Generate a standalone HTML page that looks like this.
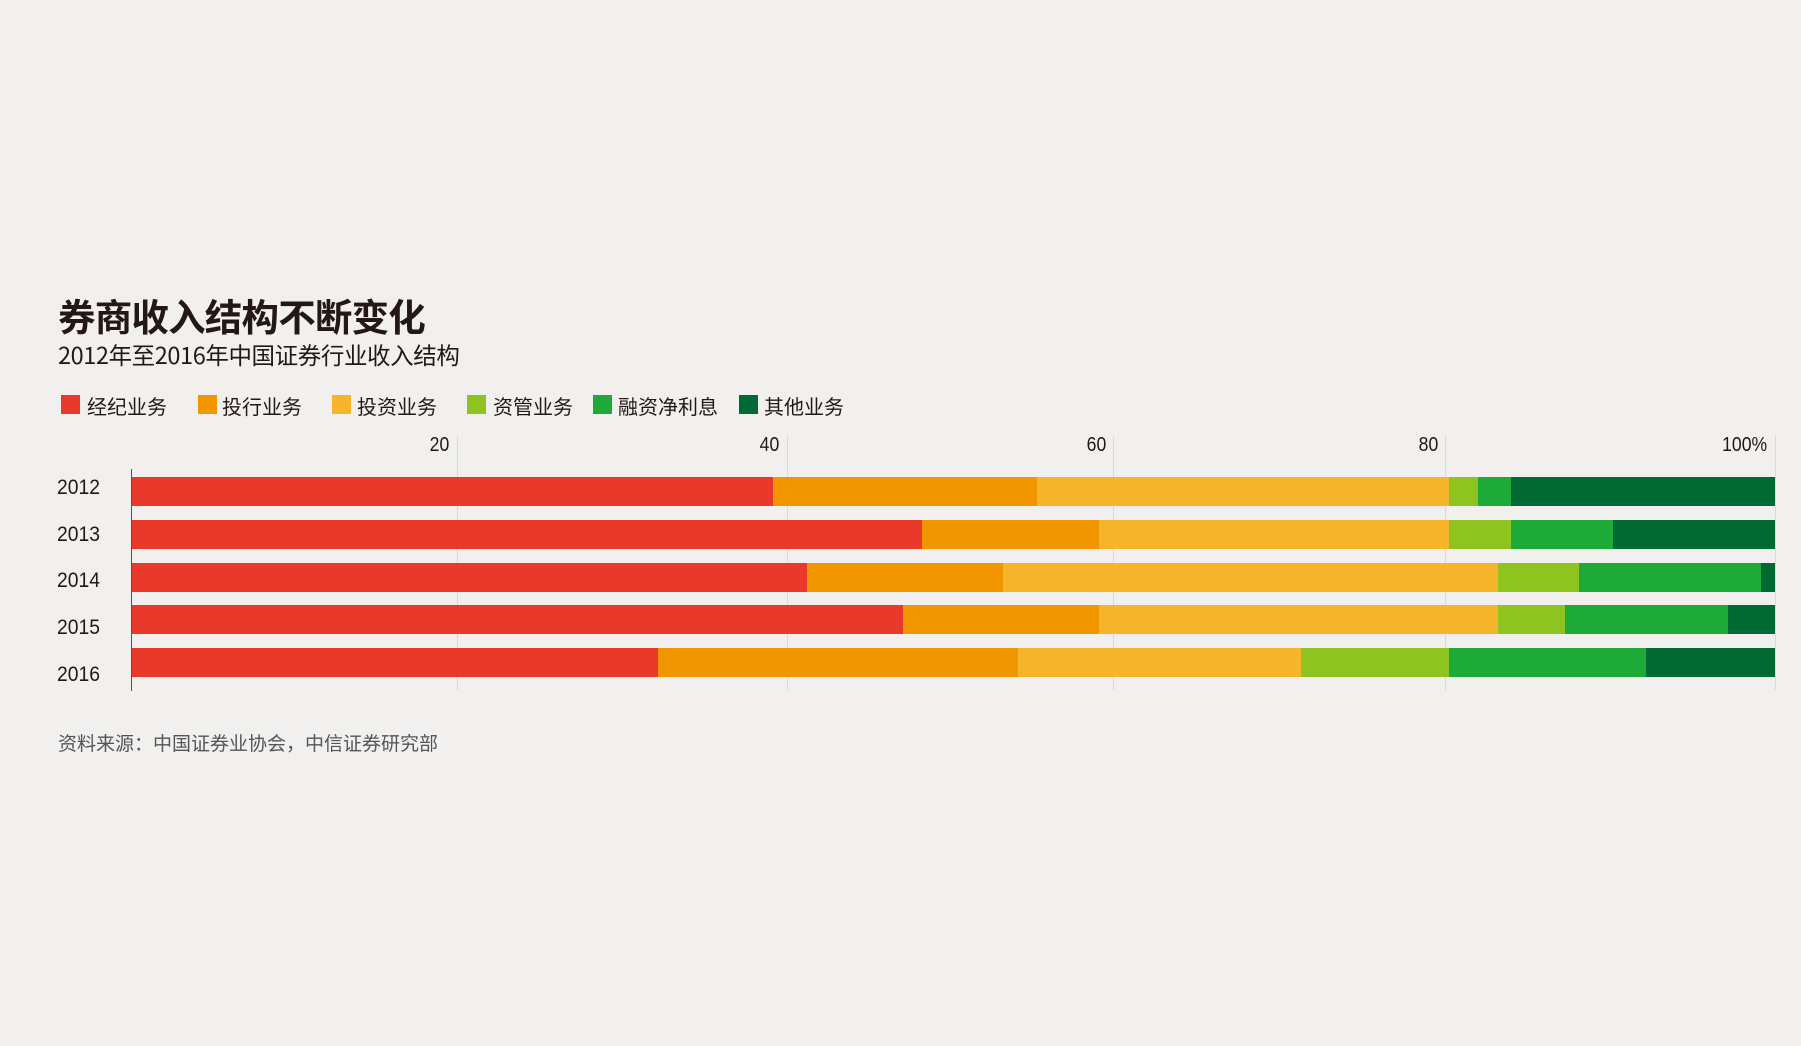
<!DOCTYPE html>
<html><head><meta charset="utf-8"><style>
body{margin:0;width:1801px;height:1046px;background:#f1f0ee;position:relative;overflow:hidden;font-family:"Liberation Sans","Noto Sans CJK SC",sans-serif;color:#231815}
.a{position:absolute;white-space:nowrap}
.t{left:58px;top:287px;font-size:37.5px;font-weight:bold;font-family:"Noto Sans CJK SC",sans-serif;letter-spacing:-0.8px}
.s{left:58px;top:337px;font-size:23.5px;font-family:"Noto Sans CJK SC",sans-serif;letter-spacing:-0.4px}
.lg{top:395px;width:19px;height:19px}
.lt{top:391px;font-size:20px;font-family:"Noto Sans CJK SC",sans-serif}
.tk{top:434px;font-size:20px;transform:scaleX(.88);transform-origin:right}
.yr{left:57px;font-size:21px;transform:scaleX(.92);transform-origin:left}
.g{top:436px;width:1px;height:254px;background:#dcdad7}
.seg{position:absolute;height:29px}
.src{left:58px;top:729px;font-size:19px;color:#555;font-family:"Noto Sans CJK SC",sans-serif}
</style></head><body>
<div class="a t">券商收入结构不断变化</div>
<div class="a s">2012年至2016年中国证券行业收入结构</div>
<div class="a lg" style="left:61px;background:#e8392a"></div><div class="a lt" style="left:87px">经纪业务</div>
<div class="a lg" style="left:198px;background:#f29600"></div><div class="a lt" style="left:222px">投行业务</div>
<div class="a lg" style="left:332px;background:#f7b52c"></div><div class="a lt" style="left:357px">投资业务</div>
<div class="a lg" style="left:467px;background:#8fc31f"></div><div class="a lt" style="left:493px">资管业务</div>
<div class="a lg" style="left:593px;background:#1daa39"></div><div class="a lt" style="left:618px">融资净利息</div>
<div class="a lg" style="left:739px;background:#006934"></div><div class="a lt" style="left:764px">其他业务</div>

<div class="a g" style="left:457px"></div>
<div class="a g" style="left:787px"></div>
<div class="a g" style="left:1113px"></div>
<div class="a g" style="left:1445px"></div>
<div class="a g" style="left:1775px"></div>
<div class="a tk" style="right:1352px">20</div>
<div class="a tk" style="right:1022px">40</div>
<div class="a tk" style="right:695px">60</div>
<div class="a tk" style="right:363px">80</div>
<div class="a tk" style="right:34px">100%</div>

<div class="a" style="left:131px;top:469px;width:1px;height:222px;background:#555"></div>

<div class="a yr" style="top:476px">2012</div>
<div class="a yr" style="top:523px">2013</div>
<div class="a yr" style="top:569px">2014</div>
<div class="a yr" style="top:616px">2015</div>
<div class="a yr" style="top:663px">2016</div>

<div style="position:absolute;left:0;top:477px">
<div class="seg" style="left:132px;width:641px;background:#e8392a"></div>
<div class="seg" style="left:773px;width:264px;background:#f29600"></div>
<div class="seg" style="left:1037px;width:412px;background:#f7b52c"></div>
<div class="seg" style="left:1449px;width:29px;background:#8fc31f"></div>
<div class="seg" style="left:1478px;width:33px;background:#1daa39"></div>
<div class="seg" style="left:1511px;width:264px;background:#006934"></div>
</div>
<div style="position:absolute;left:0;top:520px">
<div class="seg" style="left:132px;width:790px;background:#e8392a"></div>
<div class="seg" style="left:922px;width:177px;background:#f29600"></div>
<div class="seg" style="left:1099px;width:350px;background:#f7b52c"></div>
<div class="seg" style="left:1449px;width:62px;background:#8fc31f"></div>
<div class="seg" style="left:1511px;width:102px;background:#1daa39"></div>
<div class="seg" style="left:1613px;width:162px;background:#006934"></div>
</div>
<div style="position:absolute;left:0;top:563px">
<div class="seg" style="left:132px;width:675px;background:#e8392a"></div>
<div class="seg" style="left:807px;width:196px;background:#f29600"></div>
<div class="seg" style="left:1003px;width:495px;background:#f7b52c"></div>
<div class="seg" style="left:1498px;width:81px;background:#8fc31f"></div>
<div class="seg" style="left:1579px;width:182px;background:#1daa39"></div>
<div class="seg" style="left:1761px;width:14px;background:#006934"></div>
</div>
<div style="position:absolute;left:0;top:605px">
<div class="seg" style="left:132px;width:771px;background:#e8392a"></div>
<div class="seg" style="left:903px;width:196px;background:#f29600"></div>
<div class="seg" style="left:1099px;width:399px;background:#f7b52c"></div>
<div class="seg" style="left:1498px;width:67px;background:#8fc31f"></div>
<div class="seg" style="left:1565px;width:163px;background:#1daa39"></div>
<div class="seg" style="left:1728px;width:47px;background:#006934"></div>
</div>
<div style="position:absolute;left:0;top:648px">
<div class="seg" style="left:132px;width:526px;background:#e8392a"></div>
<div class="seg" style="left:658px;width:360px;background:#f29600"></div>
<div class="seg" style="left:1018px;width:283px;background:#f7b52c"></div>
<div class="seg" style="left:1301px;width:148px;background:#8fc31f"></div>
<div class="seg" style="left:1449px;width:197px;background:#1daa39"></div>
<div class="seg" style="left:1646px;width:129px;background:#006934"></div>
</div>

<div class="a src">资料来源：中国证券业协会，中信证券研究部</div>
</body></html>
